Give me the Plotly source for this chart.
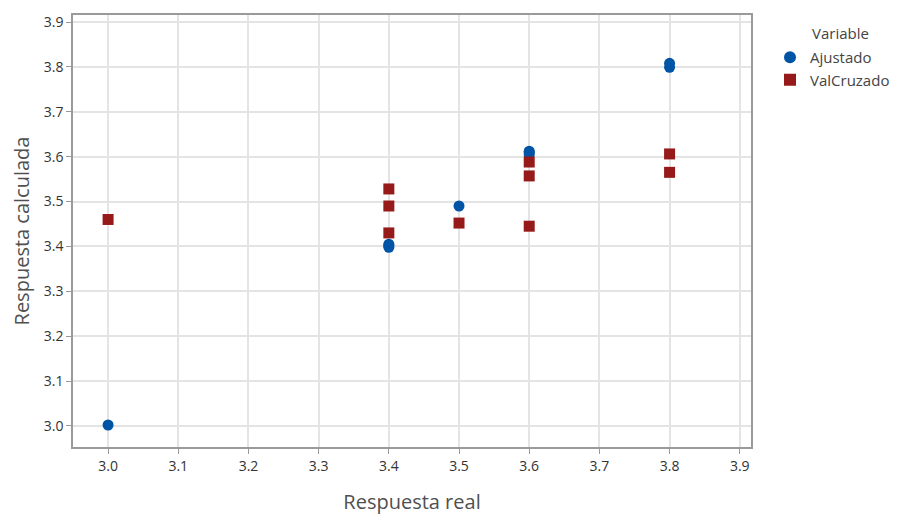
import plotly.graph_objects as go

# Data
aj_x = [3.0, 3.4, 3.4, 3.4, 3.5, 3.6, 3.6, 3.6, 3.8, 3.8]
aj_y = [3.002, 3.398, 3.402, 3.405, 3.490, 3.605, 3.610, 3.612, 3.799, 3.808]
vc_x = [3.0, 3.4, 3.4, 3.4, 3.5, 3.6, 3.6, 3.6, 3.8, 3.8]
vc_y = [3.460, 3.528, 3.490, 3.430, 3.452, 3.588, 3.557, 3.445, 3.606, 3.565]
tick_vals = [3.0, 3.1, 3.2, 3.3, 3.4, 3.5, 3.6, 3.7, 3.8, 3.9]
tick_text = ["3.0", "3.1", "3.2", "3.3", "3.4", "3.5", "3.6", "3.7", "3.8", "3.9"]

FONT = "Open Sans, Noto Sans, sans-serif"
W, H = 893, 507  # page body has an 8px margin

fig = go.Figure()
fig.add_trace(go.Scatter(x=aj_x, y=aj_y, mode="markers", name="Ajustado",
                         marker=dict(symbol="circle", size=11, color="#0054A6")))
fig.add_trace(go.Scatter(x=vc_x, y=vc_y, mode="markers", name="ValCruzado",
                         marker=dict(symbol="square", size=11, color="#961A1A")))

axis_common = dict(
    tickvals=tick_vals, ticktext=tick_text,
    showgrid=True, gridcolor="#e4e4e4", gridwidth=1.5,
    showline=True, linecolor="#9a9a9a", linewidth=1.5, mirror=True,
    ticks="outside", ticklen=5, tickcolor="#9a9a9a",
    tickfont=dict(family=FONT, size=14, color="#333333"),
    zeroline=False, automargin=False,
)

fig.update_layout(
    width=W, height=H,
    margin=dict(l=65, r=150, t=7, b=68, autoexpand=False),
    paper_bgcolor="white", plot_bgcolor="white",
    font=dict(family=FONT, color="#444444"),
    xaxis=dict(range=[2.95, 3.916],
               title=dict(text="Respuesta real", font=dict(family=FONT, size=20, color="#505050"), standoff=22),
               **axis_common),
    yaxis=dict(range=[2.953, 3.9156],
               title=dict(text="Respuesta calculada", font=dict(family=FONT, size=20, color="#505050"), standoff=17),
               **axis_common),
    legend=dict(xref="container", yref="container",
                x=762 / W, y=1 - 33 / H, xanchor="left", yanchor="top",
                font=dict(family=FONT, size=15, color="#444444"),
                itemsizing="constant", tracegroupgap=0),
    showlegend=True,
    annotations=[dict(text="Variable", xref="paper", yref="paper",
                      x=(810 - 73) / 678, y=1 - (33 - 15) / 432,
                      xanchor="left", yanchor="middle", showarrow=False,
                      font=dict(family=FONT, size=15, color="#444444"))],
)

fig.write_html("out.html")
